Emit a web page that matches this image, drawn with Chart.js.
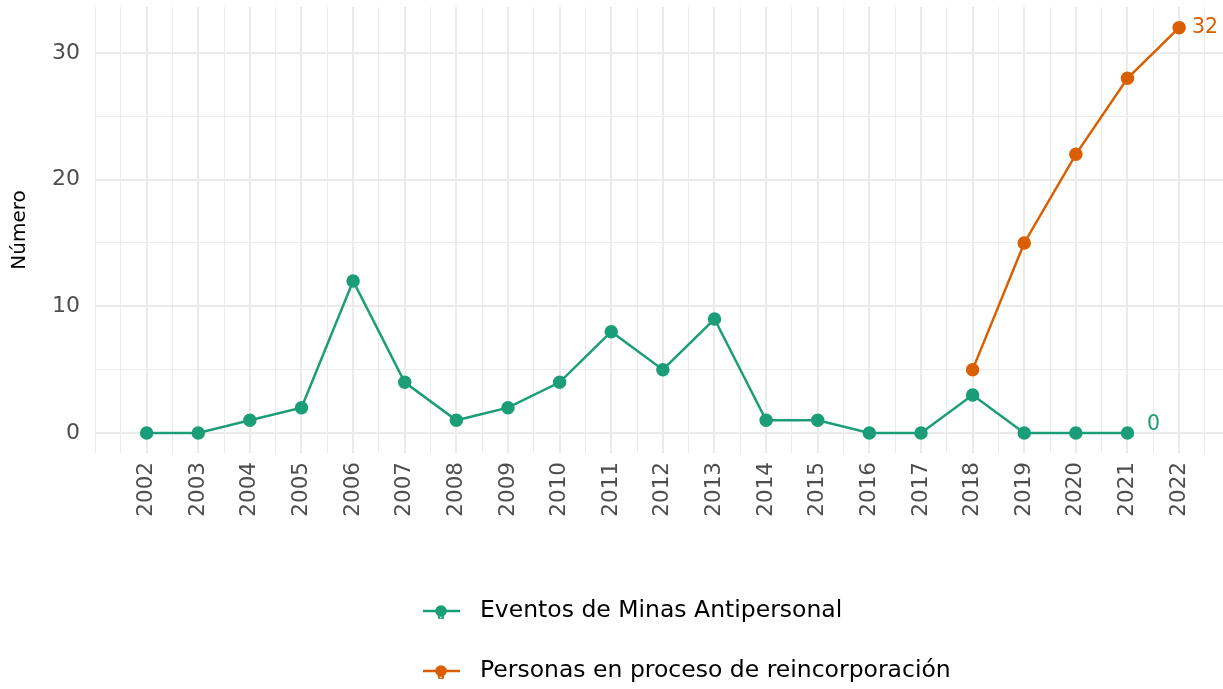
<!DOCTYPE html>
<html><head><meta charset="utf-8">
<script src="https://cdn.jsdelivr.net/npm/chart.js@4"></script>
<style>html,body{margin:0;padding:0;background:#fff}#wrap{width:1223px;height:689px}</style>
</head><body><div id="wrap"><canvas id="c" width="1223" height="689"></canvas></div>
<script>
const minasYears = [2002,2003,2004,2005,2006,2007,2008,2009,2010,2011,2012,2013,2014,2015,2016,2017,2018,2019,2020,2021];
const minasValues = [0,0,1,2,12,4,1,2,4,8,5,9,1,1,0,0,3,0,0,0];
const reincYears = [2018,2019,2020,2021,2022];
const reincValues = [5,15,22,28,32];
const xTickLabels = [2002,2003,2004,2005,2006,2007,2008,2009,2010,2011,2012,2013,2014,2015,2016,2017,2018,2019,2020,2021,2022];
const yTickLabels = [0,10,20,30];
const seriesNames = ['Eventos de Minas Antipersonal','Personas en proceso de reincorporación'];
const colors = ['#1b9e77','#d95f02'];

const FONT = 'DejaVu Sans';
const grid = '#ebebeb';

const endLabels = {
  id:'endLabels',
  afterDatasetsDraw(chart){
    const ctx = chart.ctx;
    const offs = [[26,-8],[26,0]];
    chart.data.datasets.forEach((ds,i)=>{
      const meta = chart.getDatasetMeta(i);
      const p = meta.data[meta.data.length-1];
      const v = ds.data[ds.data.length-1].y;
      ctx.save();
      ctx.font = '20.5px "'+FONT+'"';
      ctx.fillStyle = colors[i];
      ctx.textAlign='center'; ctx.textBaseline='middle';
      ctx.fillText(String(v), p.x+offs[i][0], p.y+offs[i][1]);
      ctx.restore();
    });
  }
};
const legendPlugin = {
  id:'customLegend',
  afterDraw(chart){
    const ctx = chart.ctx;
    const rows = [611,671];
    seriesNames.forEach((name,i)=>{
      const y = rows[i];
      ctx.save();
      ctx.strokeStyle = colors[i]; ctx.lineWidth = 2.5;
      ctx.beginPath(); ctx.moveTo(423,y); ctx.lineTo(460,y); ctx.stroke();
      ctx.fillStyle = colors[i];
      ctx.beginPath(); ctx.arc(441,y,5.8,0,Math.PI*2); ctx.fill();
      ctx.font = 'bold 11px "'+FONT+'"';
      ctx.textAlign='center'; ctx.textBaseline='middle';
      ctx.fillText('a',441,y+5);
      ctx.font = '23.5px "'+FONT+'"';
      ctx.fillStyle = '#000';
      ctx.textAlign='left';
      ctx.fillText(name,480,y);
      ctx.restore();
    });
  }
};

const isMajorX = v => Math.abs(v-Math.round(v))<1e-6 && xTickLabels.includes(Math.round(v));
const isMajorY = v => Math.abs(v % 10) < 1e-6 && yTickLabels.includes(v);

new Chart(document.getElementById('c'),{
  type:'line',
  data:{datasets:[
    {label:seriesNames[0],data:minasYears.map((x,i)=>({x:x,y:minasValues[i]})),borderColor:colors[0],backgroundColor:colors[0],borderWidth:2.5,pointRadius:5.5,pointHoverRadius:5.5,tension:0},
    {label:seriesNames[1],data:reincYears.map((x,i)=>({x:x,y:reincValues[i]})),borderColor:colors[1],backgroundColor:colors[1],borderWidth:2.5,pointRadius:5.5,pointHoverRadius:5.5,tension:0}
  ]},
  options:{
    responsive:false,animation:false,
    layout:{autoPadding:false,padding:{top:7,right:0,left:0,bottom:0}},
    plugins:{legend:{display:false},tooltip:{enabled:false}},
    scales:{
      x:{type:'linear',min:2001,max:2022.85,
        afterBuildTicks(s){const t=[];for(let v=2001;v<=2022.5+1e-9;v+=0.5)t.push({value:v});s.ticks=t;},
        afterFit(s){s.height=236;s.paddingLeft=0;s.paddingRight=0;s.paddingTop=0;s.paddingBottom=0;},
        grid:{color:grid,lineWidth:c=>isMajorX(c.tick.value)?2:1,drawTicks:false},
        border:{display:false},
        ticks:{autoSkip:false,maxRotation:90,minRotation:90,padding:9,color:'#4d4d4d',font:{family:FONT,size:21.5},
          callback:v=>isMajorX(v)?String(Math.round(v)):''}
      },
      y:{type:'linear',min:-1.58,max:33.63,
        afterBuildTicks(s){const t=[];for(let v=0;v<=30;v+=5)t.push({value:v});s.ticks=t;},
        afterFit(s){s.width=95;s.paddingLeft=0;s.paddingRight=0;s.paddingTop=0;s.paddingBottom=0;},
        grid:{color:grid,lineWidth:c=>isMajorY(c.tick.value)?2:1,drawTicks:false},
        border:{display:false},
        title:{display:true,text:'Número',color:'#000',font:{family:FONT,size:20},padding:{top:8,bottom:0}},
        ticks:{padding:15,color:'#4d4d4d',font:{family:FONT,size:22},callback:v=>isMajorY(v)?String(v):''}
      }
    }
  },
  plugins:[endLabels,legendPlugin]
});
</script></body></html>
